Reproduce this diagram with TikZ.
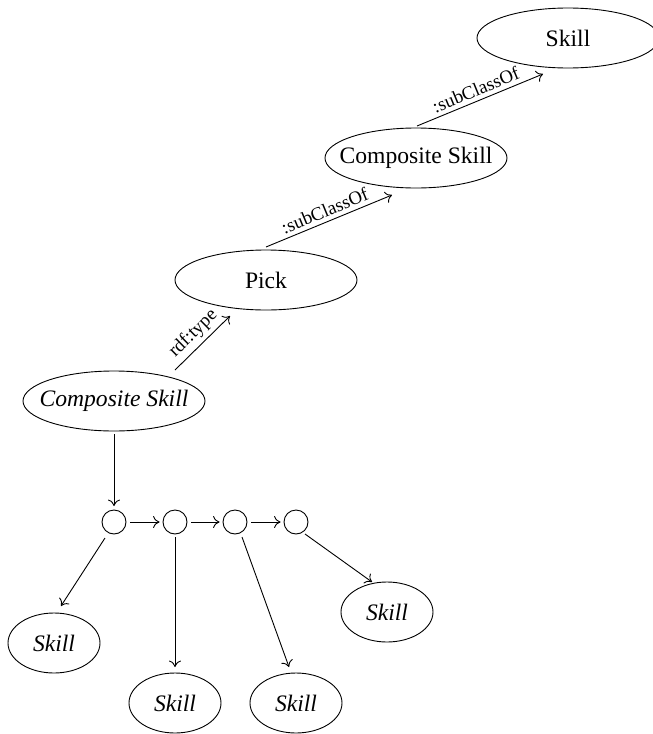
\documentclass[tikz,border=0pt]{standalone}
\usepackage{fontspec}
\setmainfont{Liberation Serif}
\usetikzlibrary{arrows.meta,calc}
\begin{document}
\begin{tikzpicture}[x=0.5pt,y=-0.5pt,line width=0.45pt,
  lbl/.style={inner sep=0pt,font=\fontsize{11.8}{14}\selectfont},
  ilbl/.style={lbl,font=\fontsize{11.8}{14}\selectfont\itshape},
  seqnode/.style={draw,circle,minimum size=12pt,inner sep=0pt},
  rel/.style={font=\fontsize{9.4}{11}\selectfont,inner sep=2pt},
  link/.style={-{To[length=3.2pt,width=6pt]}}]
\useasboundingbox (0,0) rectangle (653,734);

% class hierarchy
\node[lbl] (skill) at (568,38) {Skill};
\node[lbl] (comp) at (416,158) {Composite Skill};
\node[lbl] (pick) at (266,280) {Pick};
\node[ilbl] (inst) at (114,401) {Composite Skill};
\foreach \n in {skill,comp,pick,inst}
  \draw (\n.center) ellipse [x radius=91, y radius=30];

% sequence of steps
\node[seqnode] (c1) at (114,522) {};
\node[seqnode] (c2) at (175,522) {};
\node[seqnode] (c3) at (235,522) {};
\node[seqnode] (c4) at (296,522) {};

% skills used by each step
\node[ilbl] (s1) at (54,643) {Skill};
\node[ilbl] (s2) at (175,703) {Skill};
\node[ilbl] (s3) at (296,703) {Skill};
\node[ilbl] (s4) at (387,612) {Skill};
\foreach \n in {s1,s2,s3,s4}
  \draw (\n.center) ellipse [x radius=46, y radius=30];

% typing and subclass relations
\draw[link] ($(inst)+(61,-31)$) -- node[rel,midway,above,sloped] {rdf:type} ($(pick)+(-36,36)$);
\draw[link] ($(pick)+(0,-33)$) -- node[rel,midway,above,sloped] {:subClassOf} ($(comp)+(-24,37)$);
\draw[link] ($(comp)+(1,-32)$) -- node[rel,midway,above,sloped] {:subClassOf} ($(skill)+(-25,36)$);

% composition
\draw[link] ($(inst)+(0,33)$) -- ($(c1)+(0,-16)$);
\draw[link,shorten <=2pt,shorten >=1.5pt] (c1) -- (c2);
\draw[link,shorten <=2pt,shorten >=1.5pt] (c2) -- (c3);
\draw[link,shorten <=2pt,shorten >=1.5pt] (c3) -- (c4);

\draw[link] ($(c1)+(-9,16)$) -- ($(s1)+(7,-37)$);
\draw[link] ($(c2)+(0,15)$) -- ($(s2)+(0,-36)$);
\draw[link] ($(c3)+(7,15)$) -- ($(s3)+(-7,-36)$);
\draw[link] ($(c4)+(9,12)$) -- ($(s4)+(-15,-30)$);
\end{tikzpicture}
\end{document}
